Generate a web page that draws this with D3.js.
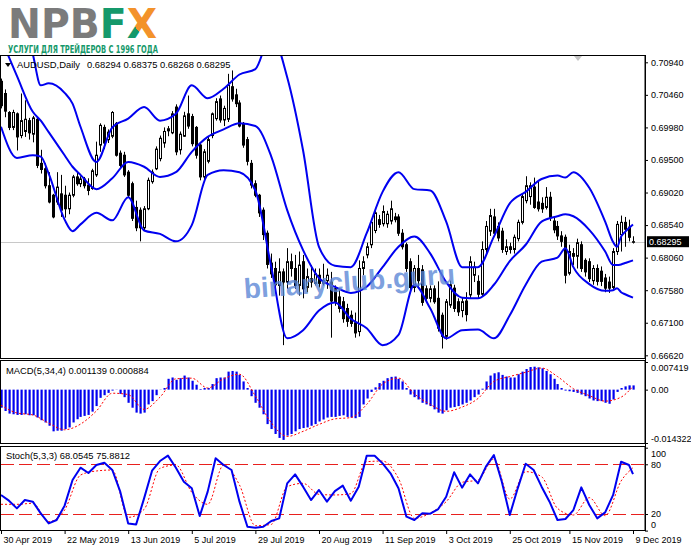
<!DOCTYPE html>
<html>
<head>
<meta charset="utf-8">
<script src="https://cdn.jsdelivr.net/npm/d3@7"></script>
<style>
  body { margin: 0; background: #fff; }
  text { font-family: "Liberation Sans", Arial, sans-serif; }
</style>
</head>
<body>
<script>
// AUDUSD daily bars, 30 Apr 2019 .. 9 Dec 2019
var open = [
  0.7066,0.7048,0.7020,0.6998,0.7018,0.6986,0.6992,0.7008,0.6988,0.7010,
  0.6945,0.6937,0.6912,0.6898,0.6888,0.6900,0.6898,0.6878,0.6898,0.6925,
  0.6915,0.6922,0.6913,0.6908,0.6928,0.6972,0.6998,0.6980,0.6985,0.7004,
  0.6960,0.6957,0.6932,0.6915,0.6880,0.6876,0.6850,0.6878,0.6918,0.6937,
  0.6952,0.6975,0.6993,0.6990,0.7028,0.6965,0.6985,0.7018,0.7014,0.6998,
  0.6972,0.6925,0.6948,0.6986,0.7011,0.7040,0.7009,0.7010,0.7058,0.7046,
  0.7034,0.7004,0.6980,0.6945,0.6915,0.6898,0.6876,0.6842,0.6798,0.6790,
  0.6765,0.6785,0.6770,0.6800,0.6790,0.6765,0.6800,0.6762,0.6775,0.6768,
  0.6780,0.6768,0.6772,0.6770,0.6760,0.6748,0.6741,0.6731,0.6721,0.6710,
  0.6697,0.6790,0.6810,0.6825,0.6846,0.6862,0.6856,0.6856,0.6860,0.6866,
  0.6866,0.6842,0.6825,0.6800,0.6762,0.6790,0.6788,0.6760,0.6746,0.6760,
  0.6746,0.6721,0.6690,0.6736,0.6761,0.6741,0.6728,0.6742,0.6751,0.6780,
  0.6771,0.6752,0.6818,0.6845,0.6866,0.6852,0.6845,0.6815,0.6822,0.6818,
  0.6834,0.6858,0.6890,0.6896,0.6910,0.6888,0.6886,0.6880,0.6895,0.6860,
  0.6852,0.6838,0.6836,0.6783,0.6812,0.6808,0.6825,0.6802,0.6800,0.6772,
  0.6790,0.6786,0.6776,0.6770,0.6762,0.6815,0.6840,0.6858,0.6851,0.68294
];
var high = [
  0.7070,0.7054,0.7022,0.7024,0.7020,0.7048,0.7038,0.7012,0.7015,0.7012,
  0.6965,0.6945,0.6932,0.6900,0.6932,0.6928,0.6912,0.6902,0.6928,0.6932,
  0.6926,0.6925,0.6923,0.6937,0.6977,0.7004,0.7002,0.6995,0.7022,0.7006,
  0.6964,0.6962,0.6935,0.6918,0.6890,0.6880,0.6882,0.6924,0.6936,0.6970,
  0.6986,0.6998,0.7000,0.7022,0.7032,0.6992,0.7021,0.7045,0.7018,0.7000,
  0.6975,0.6966,0.6985,0.7020,0.7041,0.7045,0.7030,0.7077,0.7082,0.7055,
  0.7038,0.7006,0.6984,0.6950,0.6920,0.6900,0.6880,0.6846,0.6812,0.6800,
  0.6805,0.6790,0.6820,0.6812,0.6810,0.6815,0.6810,0.6790,0.6795,0.6790,
  0.6790,0.6797,0.6790,0.6785,0.6765,0.6760,0.6748,0.6738,0.6728,0.6725,
  0.6802,0.6808,0.6828,0.6862,0.6878,0.6869,0.6883,0.6875,0.6890,0.6872,
  0.6870,0.6848,0.6828,0.6805,0.6795,0.6810,0.6795,0.6765,0.6765,0.6765,
  0.6771,0.6725,0.6745,0.6772,0.6766,0.6746,0.6748,0.6755,0.6808,0.6800,
  0.6780,0.6830,0.6860,0.6878,0.6878,0.6858,0.6850,0.6833,0.6828,0.6840,
  0.6862,0.6900,0.6926,0.6917,0.6924,0.6920,0.6895,0.6910,0.6903,0.6866,
  0.6860,0.6845,0.6840,0.6825,0.6820,0.6834,0.6830,0.6805,0.6805,0.6795,
  0.6796,0.6793,0.6782,0.6778,0.6820,0.6860,0.6868,0.6866,0.6862,0.68375
];
var low = [
  0.7026,0.7013,0.6994,0.6994,0.6964,0.6982,0.6984,0.6980,0.6976,0.6938,
  0.6930,0.6908,0.6886,0.6864,0.6884,0.6866,0.6865,0.6870,0.6895,0.6912,
  0.6910,0.6908,0.6898,0.6906,0.6925,0.6962,0.6966,0.6975,0.6982,0.6955,
  0.6938,0.6925,0.6895,0.6860,0.6845,0.6830,0.6846,0.6876,0.6915,0.6935,
  0.6948,0.6968,0.6985,0.6988,0.6957,0.6958,0.6984,0.6996,0.6970,0.6952,
  0.6920,0.6918,0.6945,0.6982,0.7008,0.7005,0.7000,0.7006,0.7036,0.7028,
  0.6998,0.6968,0.6942,0.6908,0.6895,0.6866,0.6832,0.6790,0.6776,0.6760,
  0.6750,0.6677,0.6760,0.6778,0.6760,0.6750,0.6746,0.6755,0.6762,0.6765,
  0.6762,0.6765,0.6760,0.6688,0.6735,0.6725,0.6710,0.6704,0.6704,0.6688,
  0.6690,0.6780,0.6805,0.6820,0.6842,0.6850,0.6852,0.6850,0.6855,0.6858,
  0.6838,0.6818,0.6785,0.6756,0.6755,0.6761,0.6735,0.6740,0.6740,0.6738,
  0.6697,0.6672,0.6685,0.6732,0.6726,0.6720,0.6718,0.6712,0.6745,0.6770,
  0.6745,0.6748,0.6812,0.6838,0.6838,0.6830,0.6813,0.6810,0.6812,0.6812,
  0.6830,0.6855,0.6886,0.6884,0.6878,0.6874,0.6872,0.6877,0.6860,0.6842,
  0.6832,0.6822,0.6768,0.6780,0.6795,0.6790,0.6785,0.6778,0.6770,0.6766,
  0.6765,0.6764,0.6755,0.6754,0.6758,0.6810,0.6815,0.6822,0.6830,0.68268
];
var close = [
  0.7030,0.7022,0.6998,0.7020,0.6984,0.7008,0.7010,0.6990,0.7012,0.6942,
  0.6936,0.6912,0.6888,0.6866,0.6910,0.6876,0.6878,0.6898,0.6925,0.6915,
  0.6922,0.6912,0.6905,0.6934,0.6957,0.7001,0.6975,0.6991,0.7020,0.6957,
  0.6942,0.6928,0.6898,0.6864,0.6850,0.6850,0.6878,0.6920,0.6932,0.6966,
  0.6982,0.6992,0.6996,0.7018,0.6962,0.6988,0.7015,0.7000,0.6974,0.6957,
  0.6925,0.6962,0.6980,0.7018,0.7036,0.7009,0.7026,0.7060,0.7040,0.7033,
  0.7000,0.6972,0.6948,0.6913,0.6898,0.6872,0.6840,0.6796,0.6782,0.6766,
  0.6785,0.6770,0.6800,0.6790,0.6765,0.6795,0.6760,0.6778,0.6770,0.6782,
  0.6768,0.6772,0.6780,0.6742,0.6741,0.6731,0.6716,0.6712,0.6709,0.6695,
  0.6790,0.6800,0.6822,0.6858,0.6872,0.6855,0.6874,0.6870,0.6878,0.6862,
  0.6842,0.6822,0.6790,0.6762,0.6790,0.6772,0.6740,0.6746,0.6760,0.6741,
  0.6702,0.6690,0.6741,0.6766,0.6731,0.6726,0.6741,0.6722,0.6800,0.6792,
  0.6752,0.6818,0.6852,0.6868,0.6842,0.6835,0.6818,0.6822,0.6818,0.6836,
  0.6858,0.6896,0.6912,0.6912,0.6880,0.6878,0.6878,0.6895,0.6865,0.6847,
  0.6838,0.6830,0.6780,0.6815,0.6808,0.6828,0.6790,0.6785,0.6775,0.6790,
  0.6771,0.6771,0.6761,0.6761,0.6815,0.6855,0.6858,0.6848,0.6836,0.68295
];

// Bollinger Bands(20,2), read at these bar numbers
var bandIdx = [0,4,8,10,12,16,18,20,24,28,32,36,40,44,48,52,56,60,64,68,72,76,80,84,88,
  92,96,100,104,108,112,116,120,124,128,132,136,140,142,144,148,152,154,155,156,157,159];
var bbUpper = [0.7260,0.7190,0.7106,0.7060,0.7063,0.7049,0.7033,0.6999,0.6947,0.6998,
  0.7011,0.7028,0.7008,0.7018,0.7060,0.7041,0.7055,0.7076,0.7084,0.7135,
  0.7072,0.6964,0.6822,0.6794,0.6792,0.6842,0.6903,0.6932,0.6907,0.6905,
  0.6859,0.6792,0.6792,0.6837,0.6886,0.6903,0.6922,0.6927,0.6924,0.6932,
  0.6909,0.6859,0.6829,0.6822,0.6837,0.6844,0.6855];
var bbMiddle = [0.7129,0.7074,0.7021,0.7008,0.6991,0.6957,0.6940,0.6928,0.6907,0.6923,
  0.6947,0.6940,0.6925,0.6932,0.6962,0.6984,0.6995,0.7004,0.7000,0.6955,
  0.6876,0.6817,0.6776,0.6763,0.6754,0.6763,0.6792,0.6822,0.6837,0.6812,
  0.6770,0.6747,0.6746,0.6766,0.6801,0.6825,0.6859,0.6867,0.6870,0.6867,
  0.6847,0.6815,0.6795,0.6795,0.6796,0.6798,0.6802];
var bbLower = [0.6999,0.6953,0.6957,0.6955,0.6930,0.6862,0.6845,0.6855,0.6872,0.6861,
  0.6895,0.6846,0.6841,0.6830,0.6854,0.6928,0.6935,0.6932,0.6905,0.6792,
  0.6687,0.6699,0.6728,0.6740,0.6716,0.6702,0.6677,0.6692,0.6766,0.6731,
  0.6687,0.6699,0.6700,0.6687,0.6721,0.6766,0.6800,0.6806,0.6820,0.6792,
  0.6767,0.6757,0.6758,0.6761,0.6755,0.6752,0.6747];

// MACD(5,34,4): histogram per bar, signal read every 4th bar
var macdHist = [
  -0.00485,-0.00573,-0.00643,-0.00661,-0.00679,-0.00679,-0.00661,-0.00688,-0.00688,-0.00749,
  -0.00820,-0.00881,-0.00969,-0.01119,-0.01102,-0.01102,-0.01058,-0.01014,-0.00881,-0.00794,
  -0.00732,-0.00705,-0.00679,-0.00590,-0.00441,-0.00220,-0.00149,-0.00087,-0.00025,-0.00005,
  -0.00114,-0.00202,-0.00353,-0.00485,-0.00617,-0.00643,-0.00617,-0.00397,-0.00308,-0.00149,
  -0.00005,0.00044,0.00291,0.00326,0.00264,0.00308,0.00378,0.00326,0.00238,0.00132,
  0.00018,0.00044,0.00044,0.00150,0.00308,0.00326,0.00326,0.00484,0.00501,0.00484,
  0.00396,0.00220,0.00044,-0.00176,-0.00353,-0.00485,-0.00661,-0.00925,-0.01058,-0.01190,
  -0.01296,-0.01349,-0.01234,-0.01190,-0.01119,-0.01058,-0.01031,-0.01014,-0.00969,-0.00925,
  -0.00855,-0.00802,-0.00749,-0.00732,-0.00732,-0.00705,-0.00688,-0.00732,-0.00749,-0.00767,
  -0.00732,-0.00397,-0.00238,-0.00061,0.00062,0.00176,0.00238,0.00308,0.00343,0.00352,
  0.00291,0.00220,0.00044,-0.00131,-0.00202,-0.00264,-0.00353,-0.00397,-0.00441,-0.00529,
  -0.00617,-0.00643,-0.00555,-0.00485,-0.00468,-0.00441,-0.00397,-0.00353,-0.00291,-0.00202,
  -0.00131,0.00026,0.00220,0.00378,0.00439,0.00466,0.00396,0.00352,0.00326,0.00326,
  0.00413,0.00484,0.00554,0.00607,0.00616,0.00598,0.00572,0.00501,0.00413,0.00291,
  0.00150,0.00044,-0.00025,-0.00043,-0.00061,-0.00087,-0.00131,-0.00176,-0.00238,-0.00291,
  -0.00308,-0.00308,-0.00353,-0.00379,-0.00264,-0.00061,0.00044,0.00088,0.00115,0.001139
];
var macdSigIdx = d3.range(0, 160, 4).concat([159]);
var macdSignal = [-0.00418,-0.00626,-0.00679,-0.00900,-0.01077,-0.00925,-0.00573,-0.00096,-0.00131,-0.00529,
  -0.00202,0.00291,0.00308,0.00044,0.00291,0.00413,-0.00171,-0.00890,-0.01257,-0.01119,
  -0.00934,-0.00785,-0.00749,-0.00397,0.00150,0.00308,-0.00114,-0.00397,-0.00582,-0.00468,
  -0.00238,0.00220,0.00352,0.00466,0.00580,0.00352,0.00026,-0.00160,-0.00308,-0.00202,0.000884];

// Stochastic(5,3,3): main every 2nd bar, signal every 4th bar
var stochIdx = d3.range(0, 160, 2).concat([159]);
var stochMain = [43.0,36.1,26.8,36.9,34.9,20.8,8.7,12.8,30.1,61.0,
  75.9,69.5,79.1,81.9,73.1,47.0,8.7,7.5,38.9,72.3,
  83.9,90.4,75.9,59.0,51.0,17.6,47.0,87.2,79.1,73.1,
  34.9,4.7,3.5,4.7,11.6,14.8,57.0,67.8,53.0,36.9,
  49.0,34.9,47.7,54.2,36.1,53.0,90.4,90.4,81.1,69.1,
  51.0,16.8,12.8,20.8,20.4,26.0,40.9,70.3,51.8,67.8,
  57.0,77.1,91.2,59.0,18.8,51.0,80.7,73.1,53.0,34.9,
  12.8,14.0,24.8,52.2,30.9,14.8,22.0,43.0,83.1,79.1,68.0545];
var stochSigIdx = d3.range(0, 160, 4).concat([159]);
var stochSignal = [31.7,31.7,32.9,10.8,24.8,67.0,71.9,73.1,16.0,25.6,
  75.1,79.1,46.1,31.7,79.1,55.0,5.9,7.5,53.0,57.0,
  43.7,43.0,44.5,83.1,83.9,63.0,14.8,21.2,34.9,58.2,
  61.0,86.3,38.1,71.1,65.0,26.8,18.8,39.7,18.0,59.8,75.8812];

// axis labels
var priceTicks = [0.70940,0.70460,0.69980,0.69500,0.69020,0.68540,0.68060,0.67580,0.67100,0.66620];
var macdTicks = [0.007419, 0, -0.014322];
var stochTicks = [100, 80, 20, 0];
var stochLevels = [80, 20];
var dateTickIdx = [0,16,32,48,64,80,96,112,128,143,159];
var dateLabels = ['30 Apr 2019','22 May 2019','13 Jun 2019','5 Jul 2019','29 Jul 2019','20 Aug 2019',
  '11 Sep 2019','3 Oct 2019','25 Oct 2019','15 Nov 2019','9 Dec 2019'];

var W = 691, H = 549, right = 645;
var main = { top: 55, bottom: 358 },
    macdP = { top: 360, bottom: 443 },
    stochP = { top: 446, bottom: 530 };

var svg = d3.select('body').append('svg').attr('width', W).attr('height', H);
var defs = svg.append('defs');

// scales
var x = d3.scaleLinear().domain([0, 159]).range([1, 633]);
var yP = d3.scaleLinear().domain([0.66620, 0.70940]).range([355.3, 62.3]);
var yM = d3.scaleLinear().domain([-0.014322, 0.007419]).range([443, 362]);
var yS = d3.scaleLinear().domain([0, 100]).range([530.6, 447.7]);

// logo
var grad = defs.append('linearGradient').attr('id', 'xFill').attr('gradientUnits', 'userSpaceOnUse')
    .attr('x1', 118).attr('y1', 38).attr('x2', 156).attr('y2', 8);
grad.append('stop').attr('offset', '42%').attr('stop-color', '#15996b');
grad.append('stop').attr('offset', '42%').attr('stop-color', '#f3922a');
var logo = svg.append('text').attr('x', 8).attr('y', 37.5)
    .attr('textLength', 149).attr('lengthAdjust', 'spacingAndGlyphs')
    .style('font-family', '"DejaVu Sans", sans-serif').style('font-weight', 'bold').style('font-size', '40px');
logo.append('tspan').attr('fill', '#7b7b7b').text('NPB');
logo.append('tspan').attr('fill', '#15996b').text('F');
logo.append('tspan').attr('fill', 'url(#xFill)').text('X');
svg.append('text').attr('x', 8).attr('y', 52.5)
    .attr('textLength', 150).attr('lengthAdjust', 'spacingAndGlyphs')
    .style('font-family', '"DejaVu Sans", sans-serif').style('font-weight', 'bold').style('font-size', '10.5px')
    .attr('fill', '#15996b').text('УСЛУГИ ДЛЯ ТРЕЙДЕРОВ С 1996 ГОДА');

// clip for price panel
defs.append('clipPath').attr('id', 'clipMain')
    .append('rect').attr('x', 0).attr('y', main.top).attr('width', right).attr('height', main.bottom - main.top);

// current price line
var last = close.length - 1;
svg.append('line').attr('x1', 0).attr('x2', right)
    .attr('y1', Math.round(yP(close[last])) + 0.5).attr('y2', Math.round(yP(close[last])) + 0.5)
    .attr('stroke', '#c8c8c8');

// candles
var bars = d3.range(close.length).map(function (i) {
    return { i: i, o: open[i], h: high[i], l: low[i], c: close[i] };
});
var cg = svg.append('g').attr('clip-path', 'url(#clipMain)');
cg.selectAll('.wick').data(bars).enter().append('line')
    .attr('class', 'wick')
    .attr('x1', function (d) { return Math.round(x(d.i)) + 0.5; })
    .attr('x2', function (d) { return Math.round(x(d.i)) + 0.5; })
    .attr('y1', function (d) { return yP(d.h); })
    .attr('y2', function (d) { return yP(d.l); })
    .attr('stroke', '#000').attr('stroke-width', 1);
cg.selectAll('.body').data(bars).enter().append('rect')
    .attr('class', 'body')
    .attr('x', function (d) { return Math.round(x(d.i)) - 0.5; })
    .attr('width', 2)
    .attr('y', function (d) { return yP(Math.max(d.o, d.c)); })
    .attr('height', function (d) { return Math.max(yP(Math.min(d.o, d.c)) - yP(Math.max(d.o, d.c)), 0.6); })
    .attr('fill', function (d) { return d.c >= d.o ? '#fff' : '#000'; })
    .attr('stroke', '#000').attr('stroke-width', 1);

// bollinger bands
var bandLine = function (vals) {
    return d3.line()
        .x(function (d, k) { return x(bandIdx[k]); })
        .y(function (d) { return yP(d); })
        .curve(d3.curveMonotoneX)(vals);
};
[bbUpper, bbMiddle, bbLower].forEach(function (vals) {
    cg.append('path').attr('d', bandLine(vals))
        .attr('fill', 'none').attr('stroke', '#0000f0').attr('stroke-width', 2);
});

// watermark
svg.append('text').attr('x', 350).attr('y', 291)
    .attr('text-anchor', 'middle')
    .attr('transform', 'rotate(-4,350,291)')
    .style('font-family', '"Liberation Sans", Arial, sans-serif').style('font-weight', 'bold').style('font-size', '28px')
    .attr('fill', '#5b86d6').attr('fill-opacity', 0.8)
    .text('binaryclub.guru');

// MACD histogram + signal
svg.append('g').selectAll('rect').data(macdHist).enter().append('rect')
    .attr('x', function (d, i) { return Math.round(x(i)) - 0.5; })
    .attr('width', 2.2)
    .attr('y', function (d) { return Math.min(yM(d), yM(0)); })
    .attr('height', function (d) { return Math.abs(yM(d) - yM(0)); })
    .attr('fill', '#0000f0');
svg.append('path')
    .attr('d', d3.line()
        .x(function (d, k) { return x(macdSigIdx[k]); })
        .y(function (d) { return yM(d); })
        .curve(d3.curveMonotoneX)(macdSignal))
    .attr('fill', 'none').attr('stroke', '#ff0000').attr('stroke-width', 1).attr('stroke-dasharray', '2,2');

// Stochastic
svg.selectAll('.lvl').data(stochLevels).enter().append('line')
    .attr('class', 'lvl')
    .attr('x1', 1).attr('x2', right)
    .attr('y1', function (d) { return Math.round(yS(d)) + 0.5; })
    .attr('y2', function (d) { return Math.round(yS(d)) + 0.5; })
    .attr('stroke', '#e8201e').attr('stroke-dasharray', '13,5');
svg.append('path')
    .attr('d', d3.line()
        .x(function (d, k) { return x(stochSigIdx[k]); })
        .y(function (d) { return yS(d); })
        .curve(d3.curveMonotoneX)(stochSignal))
    .attr('fill', 'none').attr('stroke', '#ff0000').attr('stroke-width', 1).attr('stroke-dasharray', '2,2');
svg.append('path')
    .attr('d', d3.line()
        .x(function (d, k) { return x(stochIdx[k]); })
        .y(function (d) { return yS(d); })(stochMain))
    .attr('fill', 'none').attr('stroke', '#0000f0').attr('stroke-width', 2).attr('stroke-linejoin', 'round');

// panel frames
[main, macdP, stochP].forEach(function (p) {
    svg.append('rect').attr('x', 0.5).attr('y', p.top + 0.5)
        .attr('width', right - 0.5).attr('height', p.bottom - p.top)
        .attr('fill', 'none').attr('stroke', '#000').attr('stroke-width', 1);
});

// legends
var fmtHead = function (v) { return v.toFixed(5); };
svg.append('path').attr('d', 'M5,63 L11,63 L8,67 Z').attr('fill', '#000');
var head = svg.append('text').attr('y', 67.5).style('font-size', '9.4px').attr('fill', '#000');
head.append('tspan').attr('x', 17).text('AUDUSD,Daily');
head.append('tspan').attr('x', 87).text([open[last], high[last], low[last], close[last]].map(fmtHead).join(' '));
svg.append('text').attr('x', 6).attr('y', 373.5).style('font-size', '9.4px').attr('fill', '#000')
    .text('MACD(5,34,4) ' + macdHist[last].toFixed(6) + ' ' + macdSignal[macdSignal.length - 1].toFixed(6));
svg.append('text').attr('x', 6).attr('y', 458.5).style('font-size', '9.4px').attr('fill', '#000')
    .text('Stoch(5,3,3) ' + stochMain[stochMain.length - 1].toFixed(4) + ' ' + stochSignal[stochSignal.length - 1].toFixed(4));

// chart shift marker
svg.append('path').attr('d', 'M574,56 L582,56 L578,61 Z').attr('fill', '#c4c4c4');

// axes
function styleAxis(g) {
    g.select('.domain').remove();
    g.attr('font-family', '"Liberation Sans", Arial, sans-serif').attr('font-size', 9);
    g.selectAll('text').attr('fill', '#000');
    g.selectAll('line').attr('stroke', '#000');
}
svg.append('line').attr('x1', right + 0.5).attr('x2', right + 0.5)
    .attr('y1', main.top).attr('y2', stochP.bottom + 1).attr('stroke', '#000');

svg.append('g').attr('transform', 'translate(' + right + ',0)')
    .call(d3.axisRight(yP).tickValues(priceTicks).tickSize(3).tickPadding(3).tickFormat(d3.format('.5f')))
    .call(styleAxis);

var macdAxis = svg.append('g').attr('transform', 'translate(' + right + ',0)')
    .call(d3.axisRight(yM).tickValues(macdTicks).tickSize(3).tickPadding(3)
        .tickFormat(function (d) { return d === 0 ? '0.00' : d.toFixed(6); }))
    .call(styleAxis);
macdAxis.selectAll('.tick text').attr('dy', function (d) {
    return d === macdTicks[0] ? '0.95em' : (d === macdTicks[2] ? '-0.2em' : '0.32em');
});

var stochAxis = svg.append('g').attr('transform', 'translate(' + right + ',0)')
    .call(d3.axisRight(yS).tickValues(stochTicks).tickSize(3).tickPadding(3))
    .call(styleAxis);
stochAxis.selectAll('.tick text').attr('dy', function (d) {
    return d === 100 ? '0.95em' : (d === 0 ? '-0.35em' : '0.32em');
});

svg.append('g').attr('transform', 'translate(0,' + stochP.bottom + ')')
    .call(d3.axisBottom(x).tickValues(dateTickIdx).tickSize(4).tickPadding(3)
        .tickFormat(function (d, k) { return dateLabels[k]; }))
    .call(styleAxis)
    .selectAll('.tick text').attr('text-anchor', 'start').attr('x', 2);

// price label box
var py = yP(close[last]);
svg.append('rect').attr('x', right + 2).attr('y', py - 5.5).attr('width', 42).attr('height', 11).attr('fill', '#000');
svg.append('text').attr('x', right + 4).attr('y', py + 3.5).style('font-size', '9px')
    .attr('fill', '#fff').text(close[last].toFixed(5));
</script>
</body>
</html>
